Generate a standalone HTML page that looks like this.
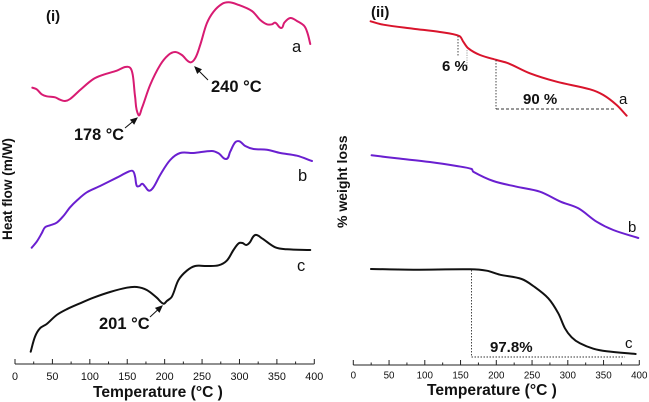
<!DOCTYPE html>
<html>
<head>
<meta charset="utf-8">
<style>
html,body{margin:0;padding:0;background:#fff}
svg{display:block;filter:blur(0.3px)}
text{font-family:"Liberation Sans",sans-serif;fill:#111}
.b{font-weight:bold}
</style>
</head>
<body>
<svg id="chart" width="649" height="402" viewBox="0 0 649 402"></svg>
<script>
const xTicks = [0, 50, 100, 150, 200, 250, 300, 350, 400];
const xMinorTicks = [25, 75, 125, 175, 225, 275, 325, 375];

const dscA = [[23.2,276.3],[29,274.7],[35.7,269.7],[42.4,267.7],[53.5,266.7],[60.2,264.3],[66.9,263],[73.6,265],[87,274],[104.8,285],[118.2,289.3],[136,293.3],[147.2,297],[153.8,296.3],[157.4,289],[160.5,267.3],[165,249],[169.5,255.7],[180.6,279],[194,299],[205,309],[214,312],[223,309],[234,301.7],[240.8,305.7],[247.5,319],[256.4,340.7],[265.3,352.3],[276.5,360],[285.4,361.7],[296.5,359.7],[316.6,353],[327.8,344],[336.7,339.7],[343.4,339.7],[347.8,341.3],[355.9,336],[359.9,341.3],[367.9,346],[376.8,343],[386.6,338],[391,330.7],[394.6,320]];
const dscB = [[22.3,116.3],[29,122.3],[35.7,130.7],[40.1,136.7],[46.8,138.7],[55.7,141.3],[64.7,148],[73.6,156.7],[83.4,164],[96,171.7],[113.7,178],[136,186.3],[151.6,192.3],[157.4,193],[160.5,187.3],[162.8,178],[166.4,178],[170,180.3],[174,177.3],[179.3,173.3],[185,176.7],[194,189],[207.4,204],[220.7,211],[238.5,211],[263,213],[272,210.7],[282.3,205],[287.6,212.3],[294.3,221.7],[300,222.7],[307.7,218],[318.8,215],[336.7,214.3],[354.5,211],[376.8,208.3],[396.9,203]];
const dscC = [[21,12.3],[26.7,27.3],[33.4,35.7],[42.4,40],[55.7,49],[69,54.7],[87,60.7],[104.8,66.3],[127,72],[149.4,76.3],[162.8,77],[176.1,74],[189.5,66.3],[198.4,60.3],[202.9,63],[209.6,67.3],[218.5,84],[229.6,93.3],[240.8,98],[256.4,98],[272,98.7],[283,103.3],[292,114],[299,120.7],[304,121],[309,119],[313.5,121.3],[321,129],[330,125.7],[347.8,116.7],[363.4,114.7],[394.6,114]];

const tgaA = [[24.2,343.7],[42,340.3],[83.9,336.3],[121.2,333],[148.3,329],[153.8,323.3],[160.8,316.7],[177.2,310],[200.5,305],[216.8,301.7],[247,291.7],[284.4,283.3],[331,275.7],[349.7,270],[368.3,260],[382.3,249.3]];
const tgaB = [[25.6,209.7],[60.6,206.7],[107.2,203],[144.5,199],[165.5,196],[167.8,193.3],[195.8,184],[228.4,178.3],[261,173.3],[290,163.3],[314.7,156.7],[340.3,143.3],[363.6,135],[398.6,127]];
const tgaC = [[24.7,96],[83.9,95.3],[163.2,95.7],[186.5,94.3],[205,90.3],[235.4,86],[251.7,79],[272.7,66.7],[286.7,51.7],[296,36.7],[305.4,27.7],[317,21.7],[335.7,16.3],[354.3,13.7],[394.9,11]];

const NS = 'http://www.w3.org/2000/svg';
const svg = document.getElementById('chart');

function make(tag, attrs, text) {
  const el = document.createElementNS(NS, tag);
  for (const k in attrs) el.setAttribute(k, attrs[k]);
  if (text !== undefined) el.textContent = text;
  svg.appendChild(el);
  return el;
}

function scaleX(panel, t) { return panel.x0 + t * (panel.x1 - panel.x0) / 400; }
function scaleY(panel, v) { return panel.axisY - v; }

function smoothPath(panel, pts) {
  const p = pts.map(d => [scaleX(panel, d[0]), scaleY(panel, d[1])]);
  let s = 'M' + p[0][0].toFixed(2) + ' ' + p[0][1].toFixed(2);
  for (let i = 0; i < p.length - 1; i++) {
    const a = p[Math.max(i - 1, 0)], b = p[i], c = p[i + 1], d = p[Math.min(i + 2, p.length - 1)];
    const seg = Math.hypot(c[0] - b[0], c[1] - b[1]);
    const l1 = Math.hypot(c[0] - a[0], c[1] - a[1]) || 1, l2 = Math.hypot(d[0] - b[0], d[1] - b[1]) || 1;
    const c1x = b[0] + (c[0] - a[0]) / l1 * seg / 3, c1y = b[1] + (c[1] - a[1]) / l1 * seg / 3;
    const c2x = c[0] - (d[0] - b[0]) / l2 * seg / 3, c2y = c[1] - (d[1] - b[1]) / l2 * seg / 3;
    s += 'C' + c1x.toFixed(2) + ' ' + c1y.toFixed(2) + ' ' + c2x.toFixed(2) + ' ' + c2y.toFixed(2) + ' ' + c[0].toFixed(2) + ' ' + c[1].toFixed(2);
  }
  return s;
}

function drawAxis(panel, prefix) {
  const axis = make('path', {d: 'M' + panel.x0 + ' ' + panel.axisY + 'H' + panel.x1, stroke: '#222', 'stroke-width': 1.1, fill: 'none'});
  
  
  xTicks.forEach(t => {
    const x = scaleX(panel, t);
    const tick = make('line', {x1: x, x2: x, y1: panel.axisY - 5, y2: panel.axisY, stroke: '#222', 'stroke-width': 1});
    
    
    const label = make('text', {x: x, y: panel.axisY + panel.labelDy, 'text-anchor': 'middle', 'font-size': panel.labelSize}, String(t));
    
    
  });
  xMinorTicks.forEach(t => {
    const x = scaleX(panel, t);
    const tick = make('line', {x1: x, x2: x, y1: panel.axisY - 2.5, y2: panel.axisY, stroke: '#222', 'stroke-width': 1});
    
    
  });
}

function drawSeries(panel, data, color, width, name) {
  const path = make('path', {d: smoothPath(panel, data), fill: 'none', stroke: color, 'stroke-width': width, 'stroke-linecap': 'round', 'stroke-linejoin': 'round'});
  
  
}

function label(x, y, str, size, bold, name, transform) {
  const attrs = {x: x, y: y, 'font-size': size};
  if (bold) attrs['class'] = 'b';
  if (transform) attrs.transform = transform;
  const el = make('text', attrs, str);
  
  
}

function guide(d, dash, name, color) {
  const el = make('path', {d: d, fill: 'none', stroke: color || '#333', 'stroke-width': 0.9, 'stroke-dasharray': dash});
  
  
}

function arrow(x1, y1, x2, y2, name) {
  const ang = Math.atan2(y2 - y1, x2 - x1), len = 6, w = 2.6;
  const bx = x2 - Math.cos(ang) * len, by = y2 - Math.sin(ang) * len;
  const nx = -Math.sin(ang) * w, ny = Math.cos(ang) * w;
  const el = make('path', {d: 'M' + x1 + ' ' + y1 + 'L' + bx + ' ' + by + 'M' + x2 + ' ' + y2 + 'L' + (bx + nx) + ' ' + (by + ny) + 'L' + (bx - nx) + ' ' + (by - ny) + 'Z', stroke: '#111', 'stroke-width': 1, fill: '#111'});
  
  
}

const leftPanel = {x0: 15, x1: 314.3, axisY: 364, labelDy: 16, labelSize: 10.8};
const rightPanel = {x0: 353.3, x1: 639.3, axisY: 365, labelDy: 13.5, labelSize: 9.8};

drawAxis(leftPanel, 'dsc');
drawAxis(rightPanel, 'tga');

drawSeries(leftPanel, dscA, '#d81b72', 2, 'dsc-curve-a');
drawSeries(leftPanel, dscB, '#6a1fd0', 2, 'dsc-curve-b');
drawSeries(leftPanel, dscC, '#111111', 2, 'dsc-curve-c');
drawSeries(rightPanel, tgaA, '#d9142c', 2, 'tga-curve-a');
drawSeries(rightPanel, tgaB, '#6a1fd0', 2, 'tga-curve-b');
drawSeries(rightPanel, tgaC, '#111111', 2, 'tga-curve-c');

guide('M458 36V56', '1.5 1.5', 'six-percent-guide-left');
guide('M467 50V70', '1.2 1.2', 'six-percent-guide-right', '#999');
guide('M496 60V109', '1.5 1.5', 'ninety-percent-guide-vertical');
guide('M496 109H615', '3 2', 'ninety-percent-guide-horizontal');
guide('M471.5 270V357H625', '1.5 1.5', 'ninety-seven-percent-guide');

arrow(125, 128, 137, 118, 'arrow-178');
arrow(208, 80, 195, 67, 'arrow-240');
arrow(150, 317, 162, 306, 'arrow-201');

label(46, 21, '(i)', 15, true, 'panel-label-i');
label(371, 17, '(ii)', 15, true, 'panel-label-ii');
label(74, 140, '178 °C', 16.3, true, 'annotation-178');
label(211, 92, '240 °C', 16.5, true, 'annotation-240');
label(99, 329, '201 °C', 16.5, true, 'annotation-201');
label(442, 71, '6 %', 15, true, 'annotation-6-percent');
label(523, 104, '90 %', 15, true, 'annotation-90-percent');
label(490, 352, '97.8%', 15, true, 'annotation-97-8-percent');
label(292, 52, 'a', 16.5, false, 'label-dsc-a');
label(298, 181, 'b', 16.5, false, 'label-dsc-b');
label(297, 271, 'c', 16.5, false, 'label-dsc-c');
label(619, 104, 'a', 15, false, 'label-tga-a');
label(628, 232, 'b', 15, false, 'label-tga-b');
label(625, 348, 'c', 15, false, 'label-tga-c');
label(93, 397, 'Temperature (°C )', 15.6, true, 'dsc-x-axis-title');
label(427, 395, 'Temperature (°C )', 15.6, true, 'tga-x-axis-title');
label(12, 240, 'Heat flow (m/W)', 13.6, true, 'dsc-y-axis-title', 'rotate(-90 12 240)');
label(347, 228, '% weight loss', 14, true, 'tga-y-axis-title', 'rotate(-90 347 228)');
</script>
</body>
</html>
